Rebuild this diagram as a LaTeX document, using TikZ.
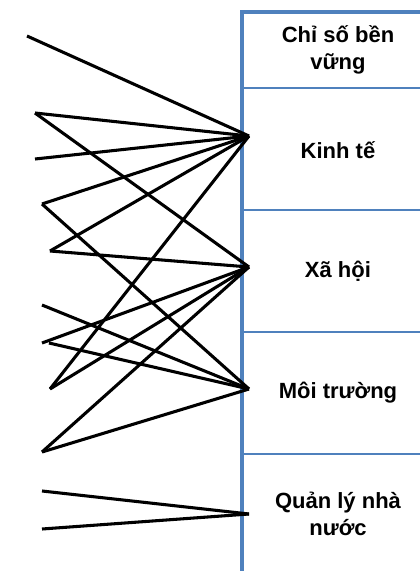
\documentclass[tikz,border=0pt]{standalone}
\usepackage{fontspec}
\setmainfont{Liberation Sans}
\definecolor{tblue}{HTML}{4F81BD}
\begin{document}
\begin{tikzpicture}[x=0.75pt, y=-0.75pt, line width=2.3pt,
		cell/.style = {align=center, font=\fontsize{16.5}{20}\selectfont\bfseries},
		rule/.style = {draw=tblue, line width=1.3pt}]
				\useasboundingbox (0,0) rectangle (420,571);

				% table
				\draw[tblue, line width=2.7pt, line join=miter] (420,12) -- (242,12) -- (242,571);
				\draw[rule] (242,88) -- (420,88);
				\draw[rule] (242,210) -- (420,210);
				\draw[rule] (242,332) -- (420,332);
				\draw[rule] (242,454) -- (420,454);

				\node[cell] (0) at (338,50) {Chỉ số bền\\vững};
				\node[cell] (1) at (338,150) {Kinh tế};
				\node[cell] (2) at (338,271) {Xã hội};
				\node[cell] (3) at (338,393) {Môi trường};
				\node[cell] (4) at (338,514) {Quản lý nhà\\nước};

				% ends
				\coordinate (kt) at (249,136);
				\coordinate (xh) at (249,267);
				\coordinate (mt) at (249,389);
				\coordinate (ql) at (249,514);

				\coordinate (a) at (27,36);
				\coordinate (b) at (35,113);
				\coordinate (c) at (35,159);
				\coordinate (d) at (42,204);
				\coordinate (e) at (50,251);
				\coordinate (g) at (42,305);
				\coordinate (h1) at (42,343);
				\coordinate (h2) at (49,343);
				\coordinate (f) at (50,389);
				\coordinate (i) at (42,452);
				\coordinate (j) at (42,491);
				\coordinate (k) at (42,529);

				\draw (a) -- (kt);
				\draw (b) -- (kt);
				\draw (c) -- (kt);
				\draw (d) -- (kt);
				\draw (e) -- (kt);
				\draw (f) -- (kt);

				\draw (b) -- (xh);
				\draw (e) -- (xh);
				\draw (f) -- (xh);
				\draw (h1) -- (xh);
				\draw (i) -- (xh);

				\draw (d) -- (mt);
				\draw (g) -- (mt);
				\draw (h2) -- (mt);
				\draw (i) -- (mt);

				\draw (j) -- (ql);
				\draw (k) -- (ql);

			\end{tikzpicture}
\end{document}
